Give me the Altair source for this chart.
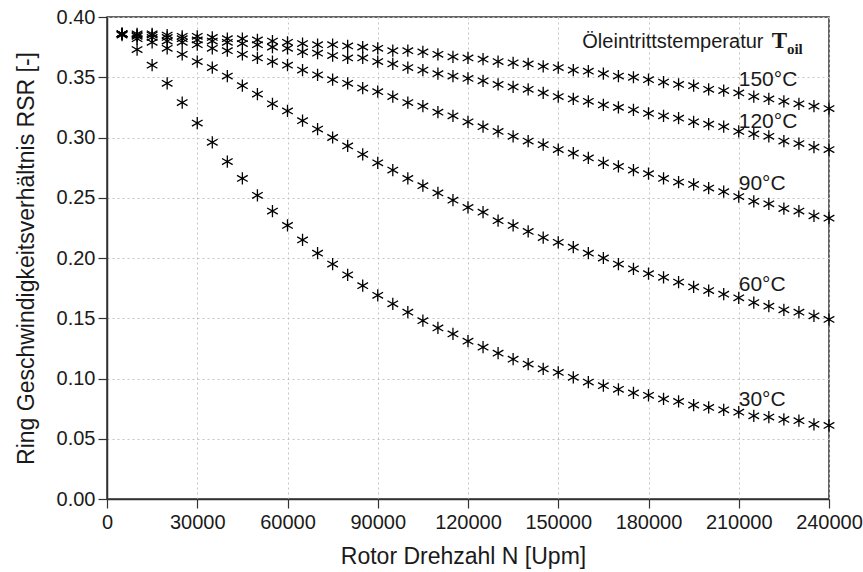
import altair as alt
import pandas as pd

rpm = [5000, 10000, 15000, 20000, 25000, 30000, 35000, 40000, 45000, 50000,
       55000, 60000, 65000, 70000, 75000, 80000, 85000, 90000, 95000, 100000,
       105000, 110000, 115000, 120000, 125000, 130000, 135000, 140000, 145000, 150000,
       155000, 160000, 165000, 170000, 175000, 180000, 185000, 190000, 195000, 200000,
       205000, 210000, 215000, 220000, 225000, 230000, 235000, 240000]

rsr_150 = [0.386, 0.386, 0.386, 0.385, 0.384, 0.384, 0.383, 0.382, 0.382, 0.381,
           0.380, 0.379, 0.378, 0.377, 0.377, 0.376, 0.375, 0.374, 0.372, 0.372,
           0.371, 0.369, 0.367, 0.366, 0.365, 0.363, 0.362, 0.361, 0.359, 0.358,
           0.356, 0.355, 0.353, 0.351, 0.350, 0.348, 0.346, 0.344, 0.343, 0.340,
           0.339, 0.337, 0.334, 0.332, 0.330, 0.328, 0.326, 0.324]
rsr_120 = [0.386, 0.385, 0.385, 0.383, 0.382, 0.381, 0.380, 0.379, 0.378, 0.377,
           0.375, 0.374, 0.371, 0.370, 0.368, 0.366, 0.366, 0.363, 0.361, 0.358,
           0.356, 0.353, 0.351, 0.349, 0.347, 0.344, 0.342, 0.340, 0.337, 0.334,
           0.332, 0.330, 0.327, 0.325, 0.323, 0.320, 0.318, 0.316, 0.313, 0.311,
           0.309, 0.305, 0.303, 0.301, 0.297, 0.295, 0.292, 0.290]
rsr_90 = [0.386, 0.384, 0.383, 0.380, 0.379, 0.377, 0.374, 0.372, 0.369, 0.366,
          0.363, 0.360, 0.356, 0.352, 0.348, 0.345, 0.341, 0.338, 0.334, 0.329,
          0.326, 0.321, 0.318, 0.313, 0.309, 0.305, 0.301, 0.297, 0.294, 0.290,
          0.287, 0.283, 0.279, 0.276, 0.273, 0.270, 0.266, 0.263, 0.261, 0.258,
          0.255, 0.251, 0.247, 0.245, 0.241, 0.239, 0.235, 0.233]
rsr_60 = [0.386, 0.382, 0.379, 0.374, 0.369, 0.363, 0.358, 0.351, 0.343, 0.336,
          0.328, 0.322, 0.314, 0.307, 0.300, 0.293, 0.286, 0.279, 0.273, 0.266,
          0.260, 0.254, 0.248, 0.242, 0.238, 0.231, 0.227, 0.222, 0.217, 0.213,
          0.209, 0.204, 0.200, 0.195, 0.191, 0.187, 0.184, 0.180, 0.176, 0.173,
          0.170, 0.167, 0.163, 0.160, 0.157, 0.155, 0.152, 0.149]
rsr_30 = [0.385, 0.373, 0.360, 0.345, 0.329, 0.312, 0.296, 0.280, 0.266, 0.252,
          0.239, 0.227, 0.215, 0.204, 0.195, 0.186, 0.177, 0.169, 0.162, 0.155,
          0.148, 0.142, 0.137, 0.131, 0.126, 0.121, 0.116, 0.112, 0.108, 0.105,
          0.101, 0.097, 0.094, 0.091, 0.088, 0.086, 0.083, 0.081, 0.078, 0.076,
          0.074, 0.072, 0.069, 0.068, 0.066, 0.065, 0.062, 0.061]

temps = ["150°C", "120°C", "90°C", "60°C", "30°C"]
label_x = [210000, 210000, 210000, 210000, 210000]
label_y = [0.348, 0.313, 0.261, 0.178, 0.0825]

x_ticks = [0, 30000, 60000, 90000, 120000, 150000, 180000, 210000, 240000]
y_ticks = [0.0, 0.05, 0.10, 0.15, 0.20, 0.25, 0.30, 0.35, 0.40]

legend_title = "Öleintrittstemperatur"
legend_sym = "T"
legend_sub = "oil"

rows = []
for t, vals in zip(temps, [rsr_150, rsr_120, rsr_90, rsr_60, rsr_30]):
    for n, v in zip(rpm, vals):
        rows.append({"N": n, "RSR": v, "T": t})
df = pd.DataFrame(rows)

lab_df = pd.DataFrame({"N": label_x, "RSR": label_y, "txt": temps})
leg_df = pd.DataFrame({"N": [158000], "RSR": [0.374], "txt": [legend_title]})
sym_df = pd.DataFrame({"N": [221000], "RSR": [0.374], "txt": [legend_sym]})
sub_df = pd.DataFrame({"N": [226000], "RSR": [0.3696], "txt": [legend_sub]})

star = "M0,-1L0,1M-0.87,-0.5L0.87,0.5M-0.87,0.5L0.87,-0.5"

xscale = alt.Scale(domain=[0, 240000], nice=False, zero=True)
yscale = alt.Scale(domain=[0, 0.4], nice=False)

axis_common = dict(
    grid=True, gridDash=[2, 3], gridColor="#c4c4c4", gridWidth=1,
    domainColor="#333333", domainWidth=1.5,
    tickColor="#333333", tickWidth=1.2, tickSize=9,
    labelFont="Liberation Sans", labelFontSize=20, labelColor="#1a1a1a",
    titleFont="Liberation Sans", titleFontWeight="normal", titleColor="#1a1a1a",
)

x_enc = alt.X("N:Q", scale=xscale,
              axis=alt.Axis(values=x_ticks, format="d", title="Rotor Drehzahl N [Upm]",
                            labelPadding=4, titleFontSize=23, titleX=356, titleY=64,
                            titleBaseline="alphabetic", labelFlush=False, **axis_common))
y_enc = alt.Y("RSR:Q", scale=yscale,
              axis=alt.Axis(values=y_ticks, format=".2f",
                            title="Ring Geschwindigkeitsverhältnis RSR [-]",
                            labelPadding=3, titleFontSize=23, titleX=-74,
                            titleBaseline="alphabetic", labelFlush=False, **axis_common))

points = alt.Chart(df).mark_point(
    shape=star, filled=False, stroke="black", strokeWidth=1.3, size=150, opacity=1
).encode(x=x_enc, y=y_enc)

labels = alt.Chart(lab_df).mark_text(
    align="left", baseline="middle", font="Liberation Sans", fontSize=21, color="#1a1a1a"
).encode(x="N:Q", y="RSR:Q", text="txt:N")

leg = alt.Chart(leg_df).mark_text(
    align="left", baseline="alphabetic", font="Liberation Sans", fontSize=20, color="#1a1a1a"
).encode(x="N:Q", y="RSR:Q", text="txt:N")

sym = alt.Chart(sym_df).mark_text(
    align="left", baseline="alphabetic", font="Liberation Serif", fontSize=23,
    fontWeight="bold", color="#1a1a1a"
).encode(x="N:Q", y="RSR:Q", text="txt:N")

sub = alt.Chart(sub_df).mark_text(
    align="left", baseline="alphabetic", font="Liberation Serif", fontSize=15,
    fontWeight="bold", color="#1a1a1a"
).encode(x="N:Q", y="RSR:Q", text="txt:N")

chart = alt.layer(points, labels, leg, sym, sub).properties(
    width=722, height=482,
    padding={"left": 107, "top": 17, "right": 34, "bottom": 73},
    autosize=alt.AutoSizeParams(type="none"),
    background="white",
).configure_view(stroke="#333333", strokeWidth=1.5)

chart.save("out.html", embed_options={"renderer": "svg", "actions": False})
